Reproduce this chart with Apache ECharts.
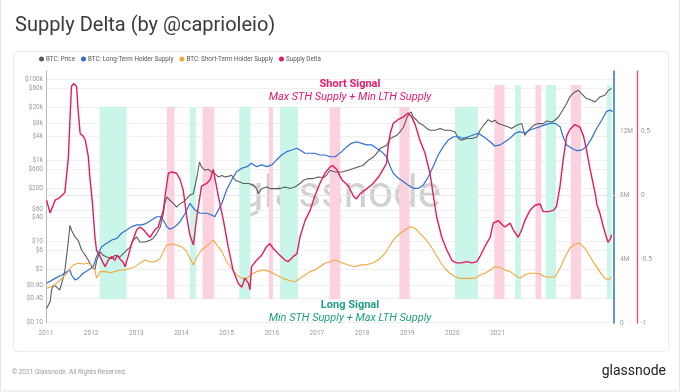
<!DOCTYPE html>
<html><head><meta charset="utf-8">
<script src="https://cdn.jsdelivr.net/npm/echarts@6/dist/echarts.min.js"></script>
<style>html,body{margin:0;padding:0;background:#fff;}#c{width:680px;height:392px;}</style>
</head><body><div id="c"></div>
<script>
// ---- Data (time in decimal years) ----
const yearLabels = [2011, 2012, 2013, 2014, 2015, 2016, 2017, 2018, 2019, 2020, 2021];
const priceTicks = [0.1, 0.4, 0.8, 2, 6, 10, 40, 60, 200, 600, 1000, 4000, 8000, 20000, 60000, 100000];
const supplyTicks = [0, 4, 8, 12];          // millions BTC
const deltaTicks = [-1, -0.5, 0, 0.5];

// BTC price (USD)
const priceData = [
[2010.89,0.22],[2010.96,0.32],[2010.99,0.62],[2011.02,0.82],[2011.09,0.74],[2011.15,0.62],[2011.22,1.31],[2011.25,1.92],
[2011.29,4.97],[2011.32,10.6],[2011.35,24.8],[2011.38,18.7],[2011.45,12.8],[2011.51,10.6],[2011.58,6.0],[2011.65,4.5],
[2011.71,3.4],[2011.78,2.32],[2011.84,2.0],[2011.87,3.2],[2011.94,5.5],[2012.00,4.5],[2012.07,4.1],[2012.17,3.74],
[2012.23,4.5],[2012.33,4.1],[2012.40,5.0],[2012.46,6.0],[2012.53,7.2],[2012.59,10.6],[2012.66,12.8],[2012.72,9.6],
[2012.82,9.6],[2012.92,10.6],[2012.98,11.7],[2013.05,15.5],[2013.12,22.5],[2013.18,48],[2013.21,85],[2013.25,124],
[2013.31,103],[2013.38,85],[2013.44,70],[2013.51,85],[2013.57,93],[2013.64,113],[2013.70,137],[2013.77,150],
[2013.84,387],[2013.89,908],[2013.93,684],[2014.00,566],[2014.06,600],[2014.13,514],[2014.19,470],[2014.26,387],
[2014.33,420],[2014.39,387],[2014.45,400],[2014.52,426],[2014.59,321],[2014.68,291],[2014.75,266],[2014.85,266],
[2014.95,241],[2015.01,200],[2015.04,151],[2015.11,200],[2015.21,219],[2015.27,200],[2015.37,200],[2015.47,200],
[2015.57,219],[2015.66,200],[2015.76,219],[2015.86,266],[2015.93,321],[2016.02,353],[2016.12,353],[2016.22,387],
[2016.32,374],[2016.38,426],[2016.45,566],[2016.55,514],[2016.68,514],[2016.81,566],[2016.91,624],[2017.00,684],
[2017.10,753],[2017.20,1000],[2017.30,1206],[2017.36,1463],[2017.43,1945],[2017.49,2130],[2017.56,2345],[2017.63,3435],
[2017.69,3760],[2017.76,4140],[2017.82,5000],[2017.89,6640],[2017.95,10700],[2018.00,14200],[2018.04,15600],[2018.08,11700],
[2018.15,9720],[2018.21,8050],[2018.28,7310],[2018.35,6070],[2018.41,5500],[2018.51,5500],[2018.61,6070],[2018.70,5500],
[2018.80,5500],[2018.90,5000],[2018.97,3435],[2019.03,3120],[2019.13,3435],[2019.23,3435],[2019.33,3760],[2019.39,5500],
[2019.46,7310],[2019.49,8050],[2019.55,10100],[2019.62,8830],[2019.68,9720],[2019.75,8050],[2019.85,7310],[2019.95,6640],
[2020.01,6070],[2020.11,7310],[2020.21,8050],[2020.27,4140],[2020.34,5500],[2020.44,7310],[2020.53,8050],[2020.63,8050],
[2020.70,9340],[2020.80,8830],[2020.86,9720],[2020.93,11700],[2020.99,15600],[2021.09,25100],[2021.15,36600],[2021.25,48600],
[2021.32,53500],[2021.38,44400],[2021.48,33400],[2021.58,30300],[2021.65,27500],[2021.74,36600],[2021.84,40300],[2021.91,53500],
[2021.97,58900]
];

// Long-Term Holder Supply (millions BTC)
const lthData = [
[2010.89,2.48],[2011.06,2.79],[2011.19,3.0],[2011.29,3.21],[2011.35,3.31],[2011.38,3.0],[2011.45,2.69],[2011.51,2.79],
[2011.61,3.11],[2011.71,3.31],[2011.81,3.52],[2011.87,4.14],[2011.97,4.77],[2012.07,4.98],[2012.17,5.19],[2012.27,5.29],
[2012.36,5.61],[2012.46,5.81],[2012.56,6.02],[2012.66,6.13],[2012.76,6.13],[2012.85,6.23],[2012.95,6.44],[2013.05,6.64],
[2013.12,6.64],[2013.18,6.44],[2013.25,6.02],[2013.31,5.86],[2013.41,6.02],[2013.51,6.33],[2013.61,6.86],[2013.70,7.48],
[2013.80,7.06],[2013.90,6.86],[2014.03,6.86],[2014.13,6.75],[2014.19,6.64],[2014.26,7.06],[2014.33,7.48],[2014.42,8.31],
[2014.52,8.94],[2014.62,9.46],[2014.72,9.67],[2014.82,9.77],[2014.91,9.98],[2015.01,9.77],[2015.11,9.88],[2015.21,9.77],
[2015.31,9.88],[2015.40,10.19],[2015.50,10.5],[2015.60,10.71],[2015.70,10.81],[2015.80,10.92],[2015.86,10.81],[2015.96,10.61],
[2016.06,10.61],[2016.15,10.61],[2016.25,10.5],[2016.35,10.5],[2016.45,10.39],[2016.55,10.39],[2016.68,10.71],[2016.78,11.02],
[2016.87,11.23],[2016.97,11.33],[2017.07,11.23],[2017.17,11.13],[2017.27,11.13],[2017.36,10.92],[2017.46,10.71],[2017.56,10.39],
[2017.63,9.77],[2017.69,9.36],[2017.79,9.04],[2017.89,8.83],[2017.98,8.63],[2018.08,8.42],[2018.18,8.42],[2018.28,8.63],
[2018.38,9.14],[2018.47,9.77],[2018.57,10.5],[2018.67,11.02],[2018.77,11.44],[2018.87,11.64],[2018.96,11.64],[2019.06,11.54],
[2019.16,11.64],[2019.26,11.75],[2019.36,11.86],[2019.46,11.64],[2019.49,11.54],[2019.59,11.33],[2019.68,11.06],[2019.78,11.13],
[2019.88,11.33],[2019.98,11.54],[2020.08,11.86],[2020.17,11.96],[2020.27,11.86],[2020.37,12.06],[2020.47,12.17],[2020.57,12.27],
[2020.66,12.38],[2020.76,12.48],[2020.86,12.48],[2020.96,12.27],[2021.02,11.64],[2021.09,11.13],[2021.19,10.92],[2021.29,10.77],
[2021.38,10.81],[2021.48,11.02],[2021.58,11.54],[2021.68,12.17],[2021.78,12.69],[2021.87,13.21],[2021.94,13.31],[2021.99,13.21]
];

// Short-Term Holder Supply (millions BTC)
const sthData = [
[2010.89,2.17],[2010.99,2.27],[2011.09,2.48],[2011.19,2.79],[2011.29,3.11],[2011.35,3.42],[2011.42,3.63],[2011.51,3.73],
[2011.61,3.69],[2011.71,3.73],[2011.78,3.63],[2011.84,3.31],[2011.87,2.79],[2011.94,3.21],[2012.04,3.21],[2012.14,3.14],
[2012.23,3.21],[2012.33,3.31],[2012.43,3.31],[2012.53,3.42],[2012.63,3.52],[2012.72,3.73],[2012.82,3.94],[2012.92,3.83],
[2013.02,3.83],[2013.12,4.04],[2013.18,4.46],[2013.25,4.88],[2013.35,4.94],[2013.44,4.88],[2013.54,4.77],[2013.64,4.46],
[2013.70,4.04],[2013.77,3.63],[2013.84,4.14],[2013.93,4.56],[2014.06,4.88],[2014.16,5.19],[2014.23,4.88],[2014.33,4.46],
[2014.42,3.83],[2014.52,3.42],[2014.62,3.0],[2014.72,2.79],[2014.82,2.79],[2014.91,3.06],[2015.01,3.21],[2015.14,3.31],
[2015.27,3.21],[2015.40,3.0],[2015.53,2.79],[2015.66,2.64],[2015.76,2.58],[2015.86,2.79],[2015.96,3.0],[2016.06,3.21],
[2016.15,3.31],[2016.25,3.52],[2016.35,3.73],[2016.45,3.83],[2016.55,3.94],[2016.68,3.77],[2016.81,3.63],[2016.94,3.52],
[2017.04,3.63],[2017.14,3.63],[2017.27,3.73],[2017.40,3.94],[2017.53,4.36],[2017.63,4.88],[2017.72,5.29],[2017.82,5.61],
[2017.92,5.81],[2018.02,6.02],[2018.12,5.92],[2018.21,5.61],[2018.31,5.29],[2018.41,4.88],[2018.51,4.36],[2018.61,3.83],
[2018.70,3.42],[2018.80,3.11],[2018.90,2.89],[2019.00,2.79],[2019.19,2.79],[2019.29,2.79],[2019.39,3.0],[2019.49,3.11],
[2019.59,3.31],[2019.68,3.52],[2019.78,3.48],[2019.88,3.31],[2019.98,3.21],[2020.08,3.0],[2020.17,2.79],[2020.27,3.0],
[2020.37,3.11],[2020.47,3.11],[2020.57,3.06],[2020.66,2.89],[2020.76,2.86],[2020.86,2.89],[2020.96,3.42],[2021.06,4.14],
[2021.15,4.67],[2021.25,4.94],[2021.35,4.98],[2021.45,4.67],[2021.55,4.14],[2021.65,3.63],[2021.74,3.21],[2021.84,2.79],
[2021.91,2.69],[2021.97,2.86]
];

// Supply Delta
const deltaData = [
[2010.89,-0.04],[2010.96,-0.14],[2011.06,-0.04],[2011.15,-0.02],[2011.25,0.02],[2011.32,0.30],[2011.35,0.59],[2011.38,0.85],
[2011.42,0.87],[2011.45,0.88],[2011.48,0.85],[2011.51,0.66],[2011.55,0.48],[2011.61,0.46],[2011.65,0.43],[2011.71,0.30],
[2011.74,0.14],[2011.79,-0.06],[2011.84,-0.33],[2011.87,-0.43],[2011.94,-0.48],[2012.00,-0.53],[2012.04,-0.56],[2012.10,-0.51],
[2012.17,-0.48],[2012.23,-0.51],[2012.28,-0.47],[2012.33,-0.50],[2012.40,-0.53],[2012.43,-0.56],[2012.49,-0.48],[2012.56,-0.38],
[2012.66,-0.27],[2012.72,-0.25],[2012.79,-0.27],[2012.85,-0.30],[2012.92,-0.33],[2012.95,-0.34],[2013.02,-0.27],[2013.08,-0.25],
[2013.18,-0.12],[2013.25,0.09],[2013.28,0.17],[2013.35,0.18],[2013.44,0.17],[2013.51,0.12],[2013.57,0.04],[2013.64,-0.17],
[2013.70,-0.31],[2013.77,-0.39],[2013.84,-0.16],[2013.93,0.07],[2014.03,0.09],[2014.10,0.12],[2014.16,0.20],[2014.26,-0.01],
[2014.36,-0.20],[2014.45,-0.40],[2014.55,-0.59],[2014.65,-0.69],[2014.72,-0.72],[2014.78,-0.65],[2014.85,-0.69],[2014.88,-0.74],
[2014.91,-0.56],[2015.01,-0.51],[2015.11,-0.47],[2015.21,-0.40],[2015.27,-0.38],[2015.34,-0.42],[2015.44,-0.46],[2015.57,-0.51],
[2015.63,-0.52],[2015.73,-0.48],[2015.80,-0.46],[2015.86,-0.33],[2015.96,-0.20],[2016.06,-0.12],[2016.15,-0.01],[2016.25,0.09],
[2016.35,0.17],[2016.45,0.22],[2016.50,0.23],[2016.58,0.20],[2016.68,0.12],[2016.81,0.07],[2016.91,-0.01],[2016.97,-0.03],
[2017.04,0.01],[2017.14,0.04],[2017.27,0.08],[2017.40,0.14],[2017.49,0.20],[2017.56,0.25],[2017.59,0.38],[2017.63,0.48],
[2017.69,0.56],[2017.79,0.59],[2017.89,0.61],[2017.98,0.64],[2018.05,0.61],[2018.12,0.55],[2018.21,0.43],[2018.31,0.33],
[2018.41,0.17],[2018.47,0.01],[2018.54,-0.17],[2018.64,-0.33],[2018.74,-0.43],[2018.84,-0.51],[2018.93,-0.53],[2019.03,-0.53],
[2019.13,-0.52],[2019.23,-0.53],[2019.33,-0.52],[2019.39,-0.48],[2019.49,-0.40],[2019.59,-0.33],[2019.65,-0.22],[2019.75,-0.20],
[2019.82,-0.23],[2019.88,-0.25],[2019.98,-0.22],[2020.04,-0.27],[2020.14,-0.33],[2020.21,-0.27],[2020.27,-0.20],[2020.37,-0.12],
[2020.47,-0.08],[2020.57,-0.07],[2020.63,-0.13],[2020.73,-0.13],[2020.83,-0.12],[2020.89,-0.09],[2020.96,0.07],[2021.02,0.27],
[2021.09,0.46],[2021.15,0.51],[2021.25,0.55],[2021.35,0.53],[2021.42,0.46],[2021.48,0.35],[2021.55,0.20],[2021.65,0.01],
[2021.68,-0.07],[2021.74,-0.14],[2021.81,-0.25],[2021.87,-0.33],[2021.90,-0.37],[2021.95,-0.34],[2021.97,-0.31]
];

// Signal windows [start, end]
const shortSignals = [[2013.25,2013.40],[2013.95,2014.18],[2015.25,2015.33],[2016.44,2016.65],[2017.81,2018.01],[2019.67,2019.87],[2020.48,2020.59],[2021.17,2021.37]];
const longSignals = [[2011.93,2012.46],[2013.70,2013.82],[2014.67,2014.89],[2015.47,2015.82],[2018.90,2019.35],[2020.08,2020.19],[2020.68,2020.88],[2021.88,2021.97]];

// ---- Styling ----
const C_PRICE = '#5b5b5b', C_LTH = '#2f6fd3', C_STH = '#f3a83b', C_DELTA = '#e51b5f';
const C_SHORT = '#e8196a', C_LONG = '#1f9e85';
const FONT = 'Roboto, "Noto Sans", sans-serif';
function bandTop(t) { return t > 2019.5 ? 0.86 : 0.6875; }
const bandBottom = -0.8125;

function bands(list, color) {
  return list.map(([a, b]) => [
    { coord: [a, bandTop(a)], itemStyle: { color: color } },
    { coord: [b, bandBottom] }
  ]);
}

const chart = echarts.init(document.getElementById('c'), null, { renderer: 'canvas' });
const axisLabelStyle = { fontSize: 6.5, color: '#9a9a9a', fontFamily: FONT };

chart.setOption({
  animation: false,
  backgroundColor: '#fff',
  textStyle: { fontFamily: FONT },
  grid: { left: 46, right: 66, top: 71, bottom: 69, containLabel: false },
  legend: {
    data: ['BTC: Price', 'BTC: Long-Term Holder Supply', 'BTC: Short-Term Holder Supply', 'Supply Delta'],
    left: 39, top: 56, padding: 0, itemGap: 6, itemWidth: 5, itemHeight: 5, icon: 'circle',
    textStyle: { fontSize: 6.3, color: '#555', fontFamily: FONT, padding: [0, 0, 0, -3] }
  },
  xAxis: [
    { type: 'value', min: 2010.88, max: 2022.018, show: false },
    { type: 'value', min: 2011, max: 2023.58, position: 'bottom',
      axisLine: { show: true, lineStyle: { color: '#e6e6e6' } },
      axisTick: { show: false },
      splitLine: { show: false },
      axisLabel: Object.assign({ customValues: yearLabels, formatter: v => String(v), margin: 7 }, axisLabelStyle) }
  ],
  yAxis: [
    { type: 'log', min: 0.096, max: 160000, position: 'left',
      axisLine: { show: true, lineStyle: { color: '#b8b8b8' } },
      axisTick: { show: false, customValues: priceTicks },
      splitLine: { show: true, lineStyle: { color: '#f0f0f0', width: 1 } },
      axisLabel: Object.assign({ customValues: priceTicks, margin: 3,
        formatter: v => v >= 1000 ? '$' + (v / 1000) + 'k' : (v < 1 ? '$' + v.toFixed(2) : '$' + v) }, axisLabelStyle) },
    { type: 'value', min: 0, max: 15.75, position: 'right',
      axisLine: { show: true, lineStyle: { color: C_LTH, width: 1.5 } },
      axisTick: { show: false }, splitLine: { show: false },
      axisLabel: Object.assign({ customValues: supplyTicks, margin: 6, formatter: v => v === 0 ? '0' : v + 'M' }, axisLabelStyle) },
    { type: 'value', min: -1, max: 0.96875, position: 'right', offset: 23,
      axisLine: { show: true, lineStyle: { color: '#e8467c', width: 1.3 } },
      axisTick: { show: false }, splitLine: { show: false },
      axisLabel: Object.assign({ customValues: deltaTicks, margin: 4, formatter: v => String(v) }, axisLabelStyle) }
  ],
  series: [
    { name: 'bands', type: 'line', xAxisIndex: 0, yAxisIndex: 2, data: [[2010.9, 0]], z: 1,
      symbol: 'none', lineStyle: { opacity: 0 }, silent: true,
      markArea: { silent: true, data: bands(shortSignals, '#fcd2de').concat(bands(longSignals, '#c9f6e8')) } },
    { name: 'BTC: Price', type: 'line', xAxisIndex: 0, yAxisIndex: 0, data: priceData, showSymbol: false, symbol: 'circle',
      itemStyle: { color: C_PRICE }, lineStyle: { color: C_PRICE, width: 1.1 }, z: 3 },
    { name: 'BTC: Long-Term Holder Supply', type: 'line', xAxisIndex: 0, yAxisIndex: 1, data: lthData, showSymbol: false, symbol: 'circle',
      itemStyle: { color: C_LTH }, lineStyle: { color: C_LTH, width: 1.2 }, z: 3 },
    { name: 'BTC: Short-Term Holder Supply', type: 'line', xAxisIndex: 0, yAxisIndex: 1, data: sthData, showSymbol: false, symbol: 'circle',
      itemStyle: { color: C_STH }, lineStyle: { color: C_STH, width: 1.1 }, z: 3 },
    { name: 'Supply Delta', type: 'line', xAxisIndex: 0, yAxisIndex: 2, data: deltaData, showSymbol: false, symbol: 'circle',
      itemStyle: { color: C_DELTA }, lineStyle: { color: C_DELTA, width: 1.4 }, z: 4 }
  ],
  graphic: [
    { type: 'rect', shape: { x: 0.5, y: -2, width: 679, height: 393 }, style: { fill: null, stroke: '#e4e4e4', lineWidth: 1 }, z: -10, silent: true },
    { type: 'rect', shape: { x: 13.5, y: 51.5, width: 655, height: 300, r: 4 }, style: { fill: '#fff', stroke: '#ebebeb', lineWidth: 1 }, z: -9, silent: true },
    { type: 'text', x: 15, y: 26, style: { text: 'Supply Delta (by @caprioleio)', font: '20px ' + FONT, fill: '#3a3a3a', verticalAlign: 'middle' }, z: 10 },
    { type: 'text', x: 340, y: 196, style: { text: 'glassnode', font: '44px ' + FONT, fill: 'rgba(40,40,40,0.22)', align: 'center', verticalAlign: 'middle' }, z: 0, silent: true },
    { type: 'text', x: 350, y: 84, style: { text: 'Short Signal', font: 'bold 11px ' + FONT, fill: C_SHORT, align: 'center', verticalAlign: 'middle' }, z: 10 },
    { type: 'text', x: 350, y: 97, style: { text: 'Max STH Supply + Min LTH Supply', font: 'italic 11px ' + FONT, fill: C_SHORT, align: 'center', verticalAlign: 'middle' }, z: 10 },
    { type: 'text', x: 350, y: 305, style: { text: 'Long Signal', font: 'bold 11px ' + FONT, fill: C_LONG, align: 'center', verticalAlign: 'middle' }, z: 10 },
    { type: 'text', x: 350, y: 318, style: { text: 'Min STH Supply + Max LTH Supply', font: 'italic 11px ' + FONT, fill: C_LONG, align: 'center', verticalAlign: 'middle' }, z: 10 },
    { type: 'text', x: 12, y: 372, style: { text: '© 2021 Glassnode. All Rights Reserved.', font: '6.5px ' + FONT, fill: '#9a9a9a', verticalAlign: 'middle' }, z: 10 },
    { type: 'text', x: 666, y: 371, style: { text: 'glassnode', font: '14px ' + FONT, fill: '#222', align: 'right', verticalAlign: 'middle' }, z: 10 }
  ]
});
</script>
</body></html>
